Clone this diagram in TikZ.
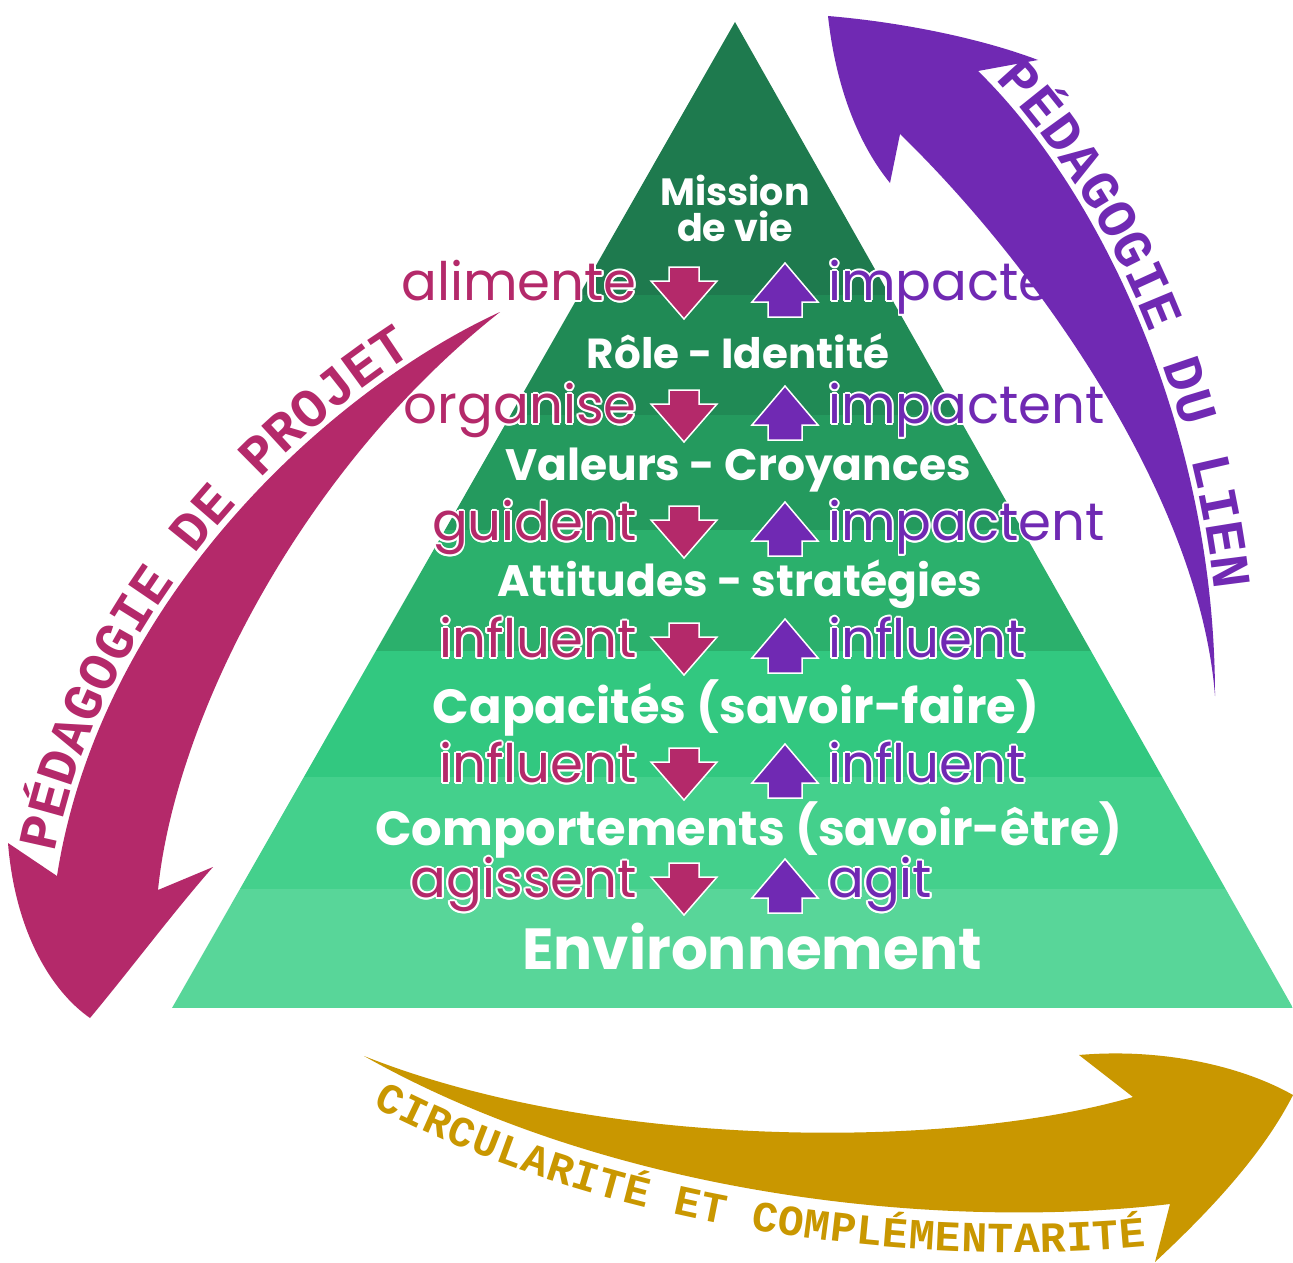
\documentclass[tikz,border=0pt]{standalone}
\usepackage{fontspec}
\setmainfont{Poppins}
\newfontfamily\arcfont{Liberation Mono}
\usetikzlibrary{decorations.text}

\definecolor{projet}{RGB}{180,41,106}
\definecolor{lien}{RGB}{112,41,179}
\definecolor{circ}{RGB}{201,151,0}
\definecolor{niv1}{RGB}{30,122,78}
\definecolor{niv2}{RGB}{32,138,85}
\definecolor{niv3}{RGB}{36,154,94}
\definecolor{niv4}{RGB}{43,176,108}
\definecolor{niv5}{RGB}{50,200,128}
\definecolor{niv6}{RGB}{68,208,140}
\definecolor{niv7}{RGB}{88,214,153}

\tikzset{
  niveau/.style={text=white, align=center, inner sep=0pt,
    font=\bfseries\fontsize{#1}{#1}\selectfont},
  verbe/.style={inner sep=0pt, font=\fontsize{53}{53}\selectfont},
  arcmot/.style={decorate, decoration={text along path, text color=#1}},
}

% verbe avec liseré blanc : nom, position, ancre, couleur, texte
\newcommand\verbe[5]{%
  \foreach \a in {0,30,...,330}
    \node[verbe, text=white, anchor=#3] at ([shift={(\a:1.8)}]#2) {#5};
  \node[verbe, text=#4, anchor=#3] (#1) at (#2) {#5};
}
% petites flèches : x, y du centre
\newcommand\dnarr[2]{%
  \filldraw[fill=projet, draw=white, line width=1.5]
    (#1-15,#2-26) -- (#1+15,#2-26) -- (#1+15,#2-12) -- (#1+33,#2-12)
    -- (#1,#2+26) -- (#1-33,#2-12) -- (#1-15,#2-12) -- cycle;}
\newcommand\uparr[2]{%
  \filldraw[fill=lien, draw=white, line width=1.5]
    (#1,#2-27) -- (#1+33,#2+12) -- (#1+17,#2+12) -- (#1+17,#2+27)
    -- (#1-17,#2+27) -- (#1-17,#2+12) -- (#1-33,#2+12) -- cycle;}

\begin{document}
\begin{tikzpicture}[x=1pt, y=-1pt]
\useasboundingbox (0,0) rectangle (1293,1263);
\fill[white] (0,0) rectangle (1293,1263);

% pyramide
\begin{scope}
\clip (735,22) -- (172,1008) -- (1293,1008) -- cycle;
\fill[niv1] (150,0) rectangle (1293,295);
\fill[niv2] (150,295) rectangle (1293,415);
\fill[niv3] (150,415) rectangle (1293,530);
\fill[niv4] (150,530) rectangle (1293,651);
\fill[niv5] (150,651) rectangle (1293,777);
\fill[niv6] (150,777) rectangle (1293,889);
\fill[niv7] (150,889) rectangle (1293,1008);
\end{scope}

% niveaux
\node[niveau=38] (mission) at (735,208) {Mission\\[-2pt]de vie};
\node[niveau=42] (role) at (738,351) {Rôle - Identité};
\node[niveau=44] (valeurs) at (738,470) {Valeurs - Croyances};
\node[niveau=44] (attitudes) at (740,584) {Attitudes - stratégies};
\node[niveau=48] (capacites) at (736,708) {Capacités (savoir-faire)};
\node[niveau=48] (comport) at (749,830) {Comportements (savoir-être)};
\node[niveau=58] (envir) at (752,946) {Environnement};

% flèches entre niveaux
\dnarr{684}{293} \uparr{785}{290}
\dnarr{684}{416} \uparr{785}{413}
\dnarr{684}{532} \uparr{785}{529}
\dnarr{684}{649} \uparr{785}{646}
\dnarr{684}{774} \uparr{785}{771}
\dnarr{684}{889} \uparr{785}{886}

\verbe{alimente}{637,298}{mid east}{projet}{alimente}
\verbe{organise}{637,421}{mid east}{projet}{organise}
\verbe{guident}{637,538}{mid east}{projet}{guident}
\verbe{influentA}{637,655}{mid east}{projet}{influent}
\verbe{influentB}{637,780}{mid east}{projet}{influent}
\verbe{agissent}{637,895}{mid east}{projet}{agissent}

\verbe{impacte}{828,298}{mid west}{lien}{impacte}
\verbe{impactentA}{828,421}{mid west}{lien}{impactent}
\verbe{impactentB}{828,538}{mid west}{lien}{impactent}
\verbe{influentC}{828,655}{mid west}{lien}{influent}
\verbe{influentD}{828,780}{mid west}{lien}{influent}
\verbe{agit}{828,895}{mid west}{lien}{agit}

% pédagogie de projet
\fill[projet] (500,312) .. controls (330,390) and (100,600) .. (57,876)
  -- (8,843) .. controls (15,930) and (50,990) .. (90,1018)
  .. controls (130,970) and (175,910) .. (213,867)
  -- (158,890) .. controls (175,720) and (300,470) .. (500,312) -- cycle;
\path[arcmot=projet, decoration={raise=6pt, text align={left indent=22pt},
  text={|\arcfont\bfseries\fontsize{55}{55}\selectfont|PÉDAGOGIE DE PROJET}}]
  (57,876) .. controls (94,641) and (265,455) .. (419,357);

% pédagogie du lien
\fill[lien] (828,16) .. controls (900,22) and (980,38) .. (1038,60)
  -- (978,71) .. controls (1100,190) and (1215,430) .. (1215,696)
  .. controls (1200,500) and (1040,270) .. (900,134)
  -- (890,183) .. controls (855,140) and (835,80) .. (828,16) -- cycle;
\path[arcmot=lien, decoration={raise=6pt, text align={left indent=18pt},
  text={|\arcfont\bfseries\fontsize{55}{55}\selectfont|PÉDAGOGIE DU LIEN}}]
  (978,71) .. controls (1082,172) and (1180,361) .. (1207,578);

% circularité
\fill[circ] (364,1056) .. controls (600,1150) and (950,1150) .. (1133,1097)
  -- (1079,1055) .. controls (1160,1048) and (1240,1065) .. (1293,1095)
  .. controls (1260,1160) and (1200,1220) .. (1155,1262)
  -- (1170,1204) .. controls (950,1230) and (620,1200) .. (364,1056) -- cycle;
\path[arcmot=circ, decoration={raise=-40pt, text align={left indent=30pt},
  text={|\arcfont\bfseries\fontsize{43}{43}\selectfont|CIRCULARITÉ ET COMPLÉMENTARITÉ}}]
  (364,1056) .. controls (620,1200) and (950,1230) .. (1170,1204);
\end{tikzpicture}
\end{document}
